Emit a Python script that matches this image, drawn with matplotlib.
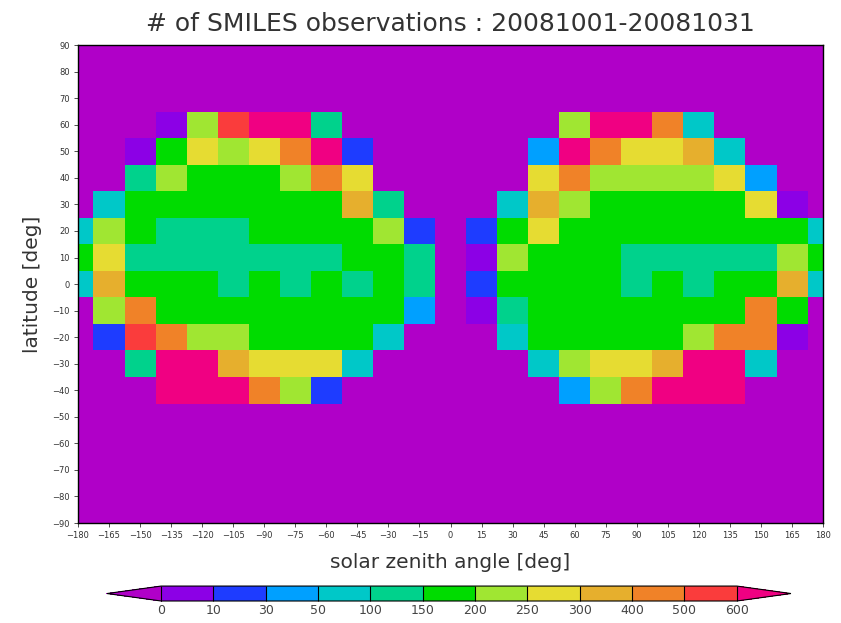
import matplotlib
matplotlib.use("Agg")
import matplotlib.pyplot as plt
import numpy as np
from matplotlib.colors import ListedColormap, BoundaryNorm

# grid centres
lons = np.arange(-180, 181, 15)
lats = np.arange(90, -91, -10)

# colour levels and colours (GrADS style)
levels = [0, 10, 30, 50, 100, 150, 200, 250, 300, 400, 500, 600]
colors = ["#8c00e6", "#1e3cff", "#00a0ff", "#00c8c8", "#00d28c", "#00dc00",
          "#a0e632", "#e6dc32", "#e6af2d", "#f08228", "#fa3c3c"]
under_color = "#b000c8"
over_color = "#f00082"

# observation counts, rows lat 60 ... -40, columns lon -180 ... 180
row_lats = [60, 50, 40, 30, 20, 10, 0, -10, -20, -30, -40]
counts = [
    [0, 0, 0, 5, 225, 550, 650, 650, 125, 0, 0, 0, 0, 0, 0, 0, 225, 650, 650, 450, 75, 0, 0, 0, 0],
    [0, 0, 5, 175, 275, 225, 275, 450, 650, 20, 0, 0, 0, 0, 0, 40, 650, 450, 275, 275, 350, 75, 0, 0, 0],
    [0, 0, 125, 225, 175, 175, 175, 225, 450, 275, 0, 0, 0, 0, 0, 275, 450, 225, 225, 225, 225, 275, 40, 0, 0],
    [0, 75, 175, 175, 175, 175, 175, 175, 175, 350, 125, 0, 0, 0, 75, 350, 225, 175, 175, 175, 175, 175, 275, 5, 0],
    [75, 225, 175, 125, 125, 125, 175, 175, 175, 175, 225, 20, 0, 20, 175, 275, 175, 175, 175, 175, 175, 175, 175, 175, 75],
    [175, 275, 125, 125, 125, 125, 125, 125, 125, 175, 175, 125, 0, 5, 225, 175, 175, 175, 125, 125, 125, 125, 125, 225, 175],
    [75, 350, 175, 175, 175, 125, 175, 125, 175, 125, 175, 125, 0, 20, 175, 175, 175, 175, 125, 175, 125, 175, 175, 350, 75],
    [0, 225, 450, 175, 175, 175, 175, 175, 175, 175, 175, 40, 0, 5, 125, 175, 175, 175, 175, 175, 175, 175, 450, 175, 0],
    [0, 20, 550, 450, 225, 225, 175, 175, 175, 175, 75, 0, 0, 0, 75, 175, 175, 175, 175, 175, 225, 450, 450, 5, 0],
    [0, 0, 125, 650, 650, 350, 275, 275, 275, 75, 0, 0, 0, 0, 0, 75, 225, 275, 275, 350, 650, 650, 75, 0, 0],
    [0, 0, 0, 650, 650, 650, 450, 225, 20, 0, 0, 0, 0, 0, 0, 0, 40, 225, 450, 650, 650, 650, 0, 0, 0],
]

grid = np.zeros((len(lats), len(lons)))
for la, row in zip(row_lats, counts):
    grid[list(lats).index(la)] = row
grid = np.ma.masked_equal(grid, 0)

cmap = ListedColormap(colors)
cmap.set_under(under_color)
cmap.set_over(over_color)
norm = BoundaryNorm(levels, cmap.N)

fig = plt.figure(figsize=(8.41, 6.23), dpi=100)
ax = fig.add_axes([0.0927, 0.1605, 0.886, 0.767])
ax.set_facecolor(under_color)

xe = np.append(lons - 7.5, lons[-1] + 7.5)
ye = np.append(lats + 5, lats[-1] - 5)
mesh = ax.pcolormesh(xe, ye, grid, cmap=cmap, norm=norm)

ax.set_xlim(-180, 180)
ax.set_ylim(-90, 90)
ax.set_xticks(np.arange(-180, 181, 15))
ax.set_yticks(np.arange(-90, 91, 10))
ax.tick_params(labelsize=6, length=3, width=0.6, colors="#333333", pad=3)
for s in ax.spines.values():
    s.set_linewidth(1.0)
ax.set_xlabel("solar zenith angle [deg]", fontsize=14.5, color="#333333", labelpad=9)
ax.set_ylabel("latitude [deg]", fontsize=14.5, color="#333333", labelpad=7)
fig.text(0.535, 0.961, "# of SMILES observations : 20081001-20081031",
         ha="center", va="center", fontsize=18, color="#333333")

cax = fig.add_axes([0.1272, 0.0353, 0.8133, 0.024])
cb = fig.colorbar(mesh, cax=cax, orientation="horizontal", extend="both",
                  extendfrac=0.094, ticks=levels, drawedges=True)
cb.outline.set_linewidth(0.8)
cb.dividers.set_linewidth(0.8)
cax.tick_params(labelsize=9, length=0, pad=2, colors="#444444")

fig.savefig("out.png", dpi=100)
